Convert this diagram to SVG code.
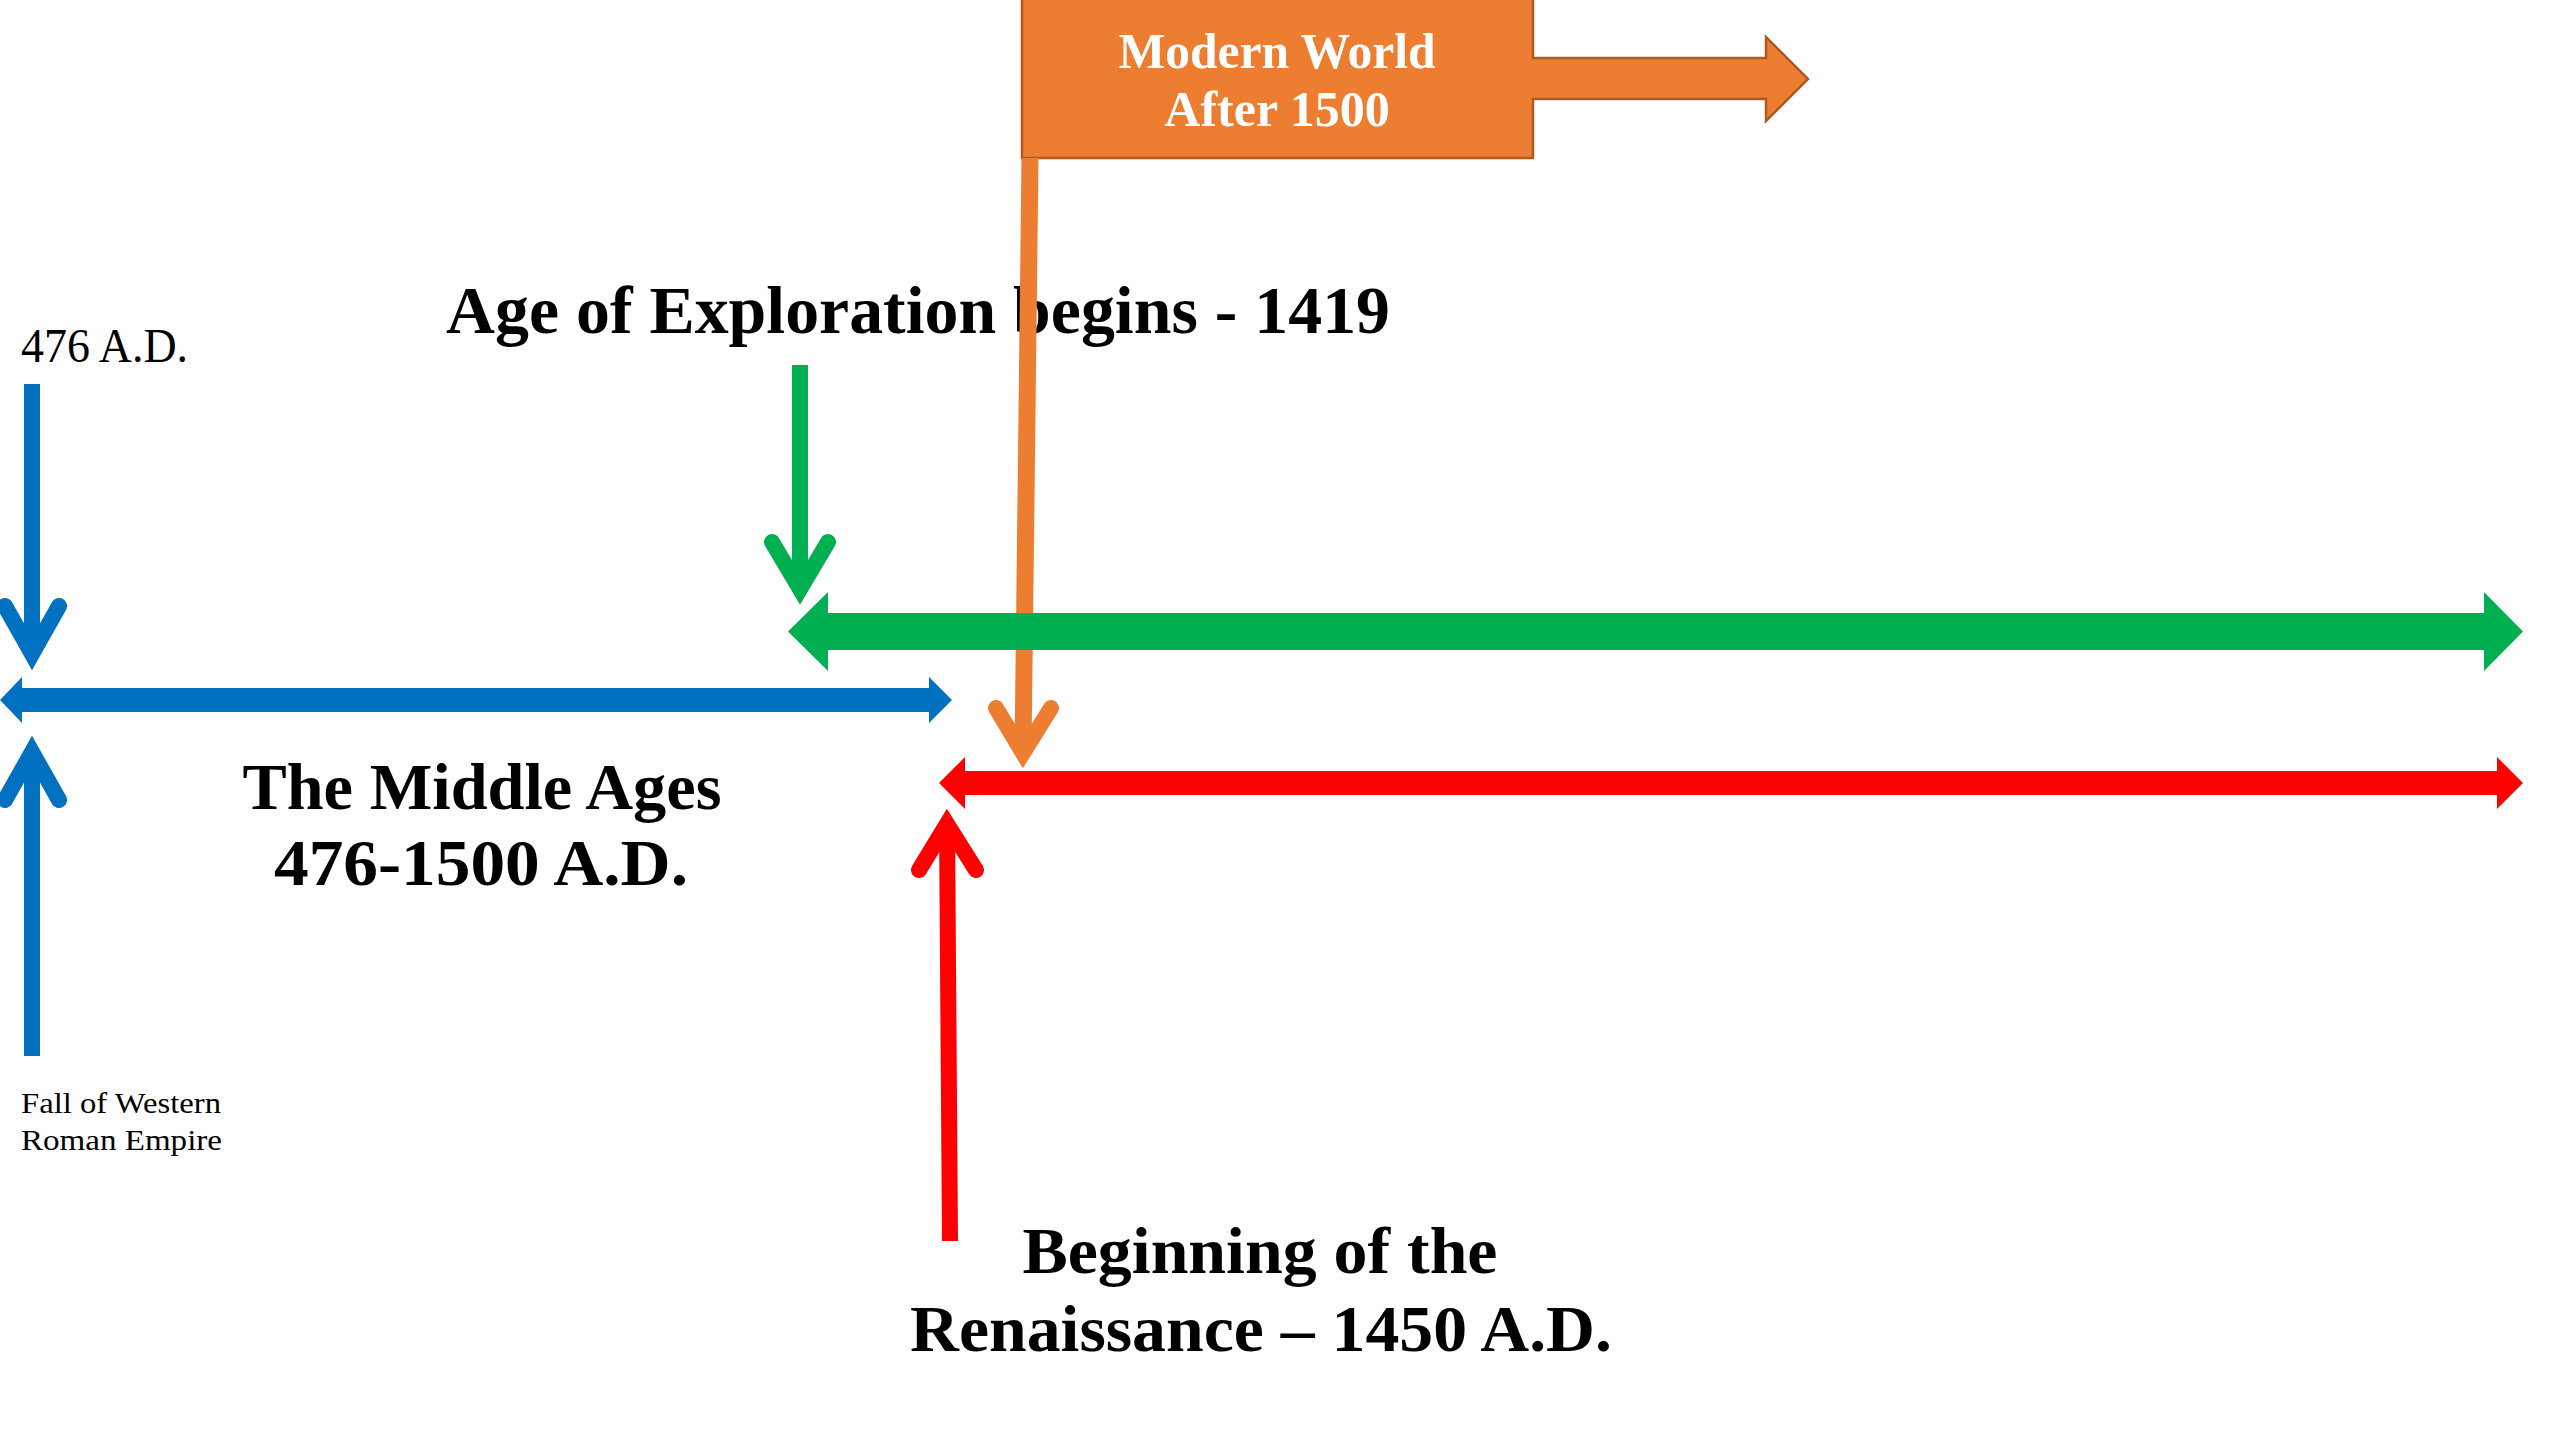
<svg xmlns="http://www.w3.org/2000/svg" width="2560" height="1440" viewBox="0 0 2560 1440">
<style>
.t{font-family:"Liberation Serif","DejaVu Serif",serif;fill:#000}
.b{font-weight:bold}
.shaft{fill:none;stroke-linecap:butt}
.head{fill:none;stroke-linecap:round;stroke-linejoin:miter;stroke-miterlimit:6}
.blue{stroke:#0070C0}
.green{stroke:#00B050}
.red{stroke:#FF0000}
.orange{stroke:#ED7D31}
</style>
<rect x="0" y="0" width="2560" height="1440" fill="#FFFFFF"/>

<g id="label-476">
<text class="t" x="21" y="362" font-size="48" textLength="167" lengthAdjust="spacingAndGlyphs">476 A.D.</text>
</g>
<g id="label-fall">
<text class="t" x="21" y="1113" font-size="30" textLength="200" lengthAdjust="spacingAndGlyphs">Fall of Western</text>
<text class="t" x="21" y="1150" font-size="30" textLength="201" lengthAdjust="spacingAndGlyphs">Roman Empire</text>
</g>
<g id="label-middle-ages">
<text class="t b" x="482" y="809" font-size="66" text-anchor="middle" textLength="479" lengthAdjust="spacingAndGlyphs">The Middle Ages</text>
<text class="t b" x="481" y="885" font-size="66" text-anchor="middle" textLength="414" lengthAdjust="spacingAndGlyphs">476-1500 A.D.</text>
</g>
<g id="label-exploration">
<text class="t b" x="446" y="333" font-size="68" textLength="944" lengthAdjust="spacingAndGlyphs">Age of Exploration begins - 1419</text>
</g>
<g id="label-renaissance">
<text class="t b" x="1260" y="1273" font-size="65" text-anchor="middle" textLength="475" lengthAdjust="spacingAndGlyphs">Beginning of the</text>
<text class="t b" x="1261" y="1351" font-size="65" text-anchor="middle" textLength="702" lengthAdjust="spacingAndGlyphs">Renaissance – 1450 A.D.</text>
</g>

<g id="modern-world">
<polygon points="1022,-5 1533,-5 1533,58 1766,58 1766,37 1808,79 1766,121 1766,99 1533,99 1533,158 1022,158" fill="#ED7D31" stroke="#AE5A21" stroke-width="2.5"/>
<text class="b" x="1277" y="68" font-size="50" text-anchor="middle" fill="#FFFFFF" font-family="Liberation Serif, DejaVu Serif, serif" textLength="317" lengthAdjust="spacingAndGlyphs">Modern World</text>
<text class="b" x="1277" y="126" font-size="50" text-anchor="middle" fill="#FFFFFF" font-family="Liberation Serif, DejaVu Serif, serif">After 1500</text>
</g>

<g id="connectors">
<g id="blue-top-arrow">
<path class="shaft blue" d="M32,384 L32,654" stroke-width="16"/>
<path class="head blue" d="M5,606 L32,654 L59,606" stroke-width="16"/>
</g>
<g id="blue-bottom-arrow">
<path class="shaft blue" d="M32,1056 L32,752" stroke-width="16"/>
<path class="head blue" d="M5,800 L32,752 L59,800" stroke-width="16"/>
</g>
<polygon id="middle-ages-span" points="0,700 22,677 22,688 929,688 929,677 952,700 929,723 929,712 22,712 22,723" fill="#0070C0"/>
<g id="orange-arrow">
<path class="shaft orange" d="M1030,158 L1023,753" stroke-width="17"/>
<path class="head orange" d="M996,708 L1023,753 L1051,708" stroke-width="16"/>
</g>
<g id="green-down-arrow">
<path class="shaft green" d="M800,365 L800,589" stroke-width="16"/>
<path class="head green" d="M772,542 L800,589 L828,542" stroke-width="16"/>
</g>
<polygon id="exploration-span" points="788,631.5 828,592 828,613 2484,613 2484,592 2523,631.5 2484,671 2484,650 828,650 828,671" fill="#00B050"/>
<polygon id="renaissance-span" points="939,783 965,757 965,771 2497,771 2497,757 2523,783 2497,809 2497,795 965,795 965,809" fill="#FF0000"/>
<g id="red-up-arrow">
<path class="shaft red" d="M950,1241 L947,824" stroke-width="16"/>
<path class="head red" d="M919,870 L947,824 L976,870" stroke-width="16"/>
</g>
</g>
</svg>
